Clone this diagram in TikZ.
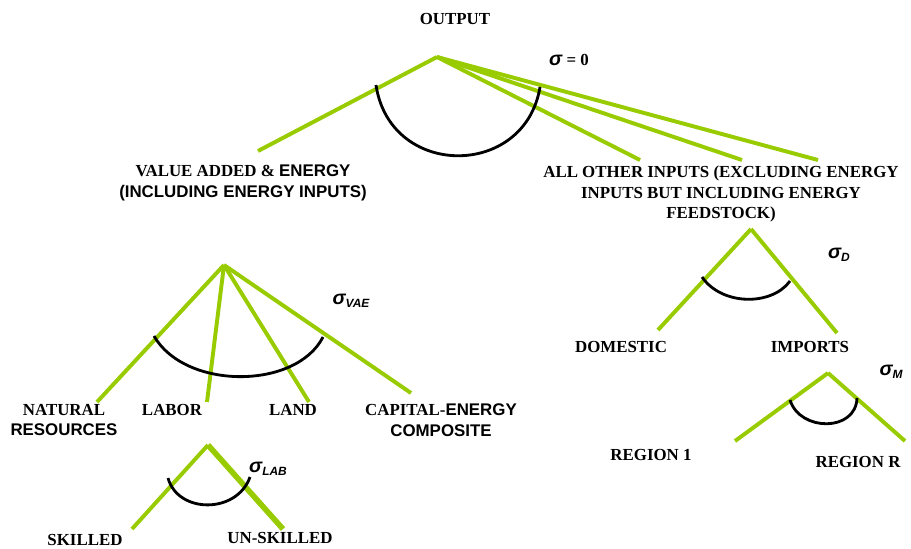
\documentclass[tikz,border=0pt]{standalone}
\usepackage{fontspec}
\setmainfont{Liberation Serif}
\newfontfamily\arialfont{Liberation Sans}
\usepackage{tikz}
\definecolor{NestGreen}{HTML}{99CC00}
\newcommand{\sigglyph}{{\arialfont\fontsize{14}{14}\selectfont\itshape σ}}
\newcommand{\elas}[1]{\sigglyph\raisebox{-0.45ex}{\arialfont\itshape\fontsize{8.5}{8.5}\selectfont #1}}

\begin{document}
\begin{tikzpicture}[
  x=0.025cm,
  y=-0.025cm,
  font=\bfseries\fontsize{12}{14.8}\selectfont,
  branch/.style={draw=NestGreen,line width=2.8pt},
  thickbranch/.style={branch,line width=4pt},
  elasticity/.style={draw=black,line width=2pt},
  tag/.style={inner sep=0pt,align=center},
  sig/.style={inner sep=0pt}
]
\useasboundingbox (0,0) rectangle (911,548);

% top nest
\node[tag] (output) at (455,19) {OUTPUT};
\coordinate (top) at (437,57);
\coordinate (vaeEnd) at (258,151);
\coordinate (aoEndA) at (640,160);
\coordinate (aoEndB) at (742,160);
\coordinate (aoEndC) at (818,160);
\coordinate (topArcL) at (376,85);
\coordinate (topArcR) at (540,87);
\node[tag] (vae) at (243,183)
  {VALUE ADDED \& {\arialfont ENERGY}\\{\arialfont (INCLUDING ENERGY INPUTS)}};
\node[tag] (allother) at (721,194)
  {ALL OTHER INPUTS (EXCLUDING ENERGY\\INPUTS BUT INCLUDING ENERGY\\FEEDSTOCK)};
\node[sig] (sigtop) at (569,60) {\sigglyph{} = 0};

\draw[branch] (top) -- (vaeEnd);
\draw[branch] (top) -- (aoEndA);
\draw[branch] (top) -- (aoEndB);
\draw[branch] (top) -- (aoEndC);
\draw[elasticity] (topArcL) .. controls (390,179) and (525,179) .. (topArcR);

% value added and energy nest
\coordinate (vaeTop) at (224,265);
\coordinate (natEnd) at (97,402);
\coordinate (labEnd) at (207,402);
\coordinate (landEnd) at (309,402);
\coordinate (capEnd) at (411,393);
\coordinate (vaeArcL) at (154,336);
\coordinate (vaeArcR) at (323,337);
\node[tag] (natres) at (64,420) {NATURAL\\{\arialfont RESOURCES}};
\node[tag] (labor) at (172,410) {LABOR};
\node[tag] (land) at (293,410) {LAND};
\node[tag] (capen) at (441,420) {CAPITAL-{\arialfont ENERGY}\\{\arialfont COMPOSITE}};
\node[sig] (sigvae) at (351,301) {\elas{VAE}};

\draw[branch] (vaeTop) -- (natEnd);
\draw[branch] (vaeTop) -- (labEnd);
\draw[branch] (vaeTop) -- (landEnd);
\draw[branch] (vaeTop) -- (capEnd);
\draw[elasticity] (vaeArcL) .. controls (185,390) and (296,390) .. (vaeArcR);

% labor nest
\coordinate (labTop) at (208,445);
\coordinate (skillEnd) at (132,529);
\coordinate (unskillEnd) at (283,529);
\coordinate (labArcL) at (168,478);
\coordinate (labArcR) at (250,477);
\node[tag] (skilled) at (85,540) {SKILLED};
\node[tag] (unskilled) at (280,538) {UN-SKILLED};
\node[sig] (siglab) at (268,469) {\elas{LAB}};

\draw[branch] (labTop) -- (skillEnd);
\draw[thickbranch] (labTop) -- (unskillEnd);
\draw[elasticity] (labArcL) .. controls (178,514) and (237,514) .. (labArcR);

% domestic and imports nest
\coordinate (domTop) at (751,229);
\coordinate (domEnd) at (658,330);
\coordinate (impEnd) at (837,333);
\coordinate (domArcL) at (702,277);
\coordinate (domArcR) at (790,281);
\node[tag] (domestic) at (621,347) {DOMESTIC};
\node[tag] (imports) at (810,347) {IMPORTS};
\node[sig] (sigd) at (839,255) {\elas{D}};

\draw[branch] (domTop) -- (domEnd);
\draw[branch] (domTop) -- (impEnd);
\draw[elasticity] (domArcL) .. controls (722,306) and (772,306) .. (domArcR);

% imports by region nest
\coordinate (impTop) at (828,373);
\coordinate (regOneEnd) at (735,441);
\coordinate (regREnd) at (905,441);
\coordinate (impArcL) at (790,400);
\coordinate (impArcR) at (857,398);
\node[tag] (regionone) at (651,455) {REGION 1};
\node[tag] (regionr) at (858,462) {REGION R};
\node[sig] (sigm) at (891,372) {\elas{M}};

\draw[branch] (impTop) -- (regOneEnd);
\draw[branch] (impTop) -- (regREnd);
\draw[elasticity] (impArcL) .. controls (800,432) and (856,432) .. (impArcR);
\end{tikzpicture}
\end{document}
